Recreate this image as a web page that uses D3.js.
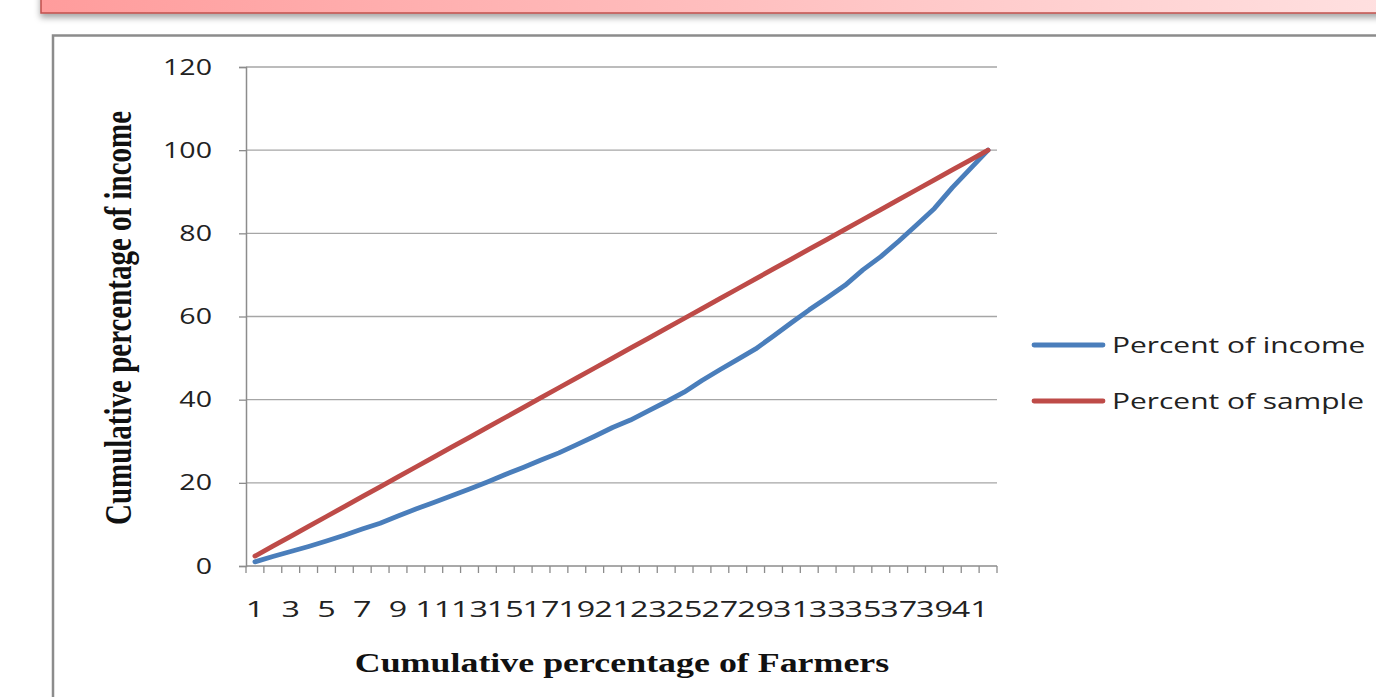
<!DOCTYPE html>
<html>
<head>
<meta charset="utf-8">
<script src="https://cdn.jsdelivr.net/npm/d3@7"></script>
<style>
  html, body { margin: 0; padding: 0; background: #ffffff; overflow: hidden; }
  svg { display: block; }
</style>
</head>
<body>
<svg id="chart" width="1376" height="697"></svg>
<script>
// Lorenz curve data: 42 farmer groups
const categories = [1,2,3,4,5,6,7,8,9,10,11,12,13,14,15,16,17,18,19,20,21,
                    22,23,24,25,26,27,28,29,30,31,32,33,34,35,36,37,38,39,40,41,42];
const percentOfIncome = [1.0, 2.3, 3.5, 4.7, 6.0, 7.4, 8.9, 10.3, 12.0, 13.7, 15.3,
                         16.9, 18.5, 20.2, 22.0, 23.7, 25.5, 27.2, 29.2, 31.2, 33.3,
                         35.1, 37.3, 39.5, 41.8, 44.6, 47.2, 49.7, 52.2, 55.3, 58.5,
                         61.6, 64.5, 67.5, 71.2, 74.4, 78.1, 82.0, 86.0, 91.0, 95.5, 100];
const percentOfSample = [2.38, 4.76, 7.14, 9.52, 11.90, 14.29, 16.67, 19.05, 21.43, 23.81,
                         26.19, 28.57, 30.95, 33.33, 35.71, 38.10, 40.48, 42.86, 45.24, 47.62,
                         50.00, 52.38, 54.76, 57.14, 59.52, 61.90, 64.29, 66.67, 69.05, 71.43,
                         73.81, 76.19, 78.57, 80.95, 83.33, 85.71, 88.10, 90.48, 92.86, 95.24,
                         97.62, 100];
const yTicks = [0, 20, 40, 60, 80, 100, 120];
const xTickLabels = categories.filter(c => c % 2 === 1);

const seriesList = [
  { name: "Percent of income", values: percentOfIncome, color: "#4a7ebb" },
  { name: "Percent of sample", values: percentOfSample, color: "#be4b48" }
];

const svg = d3.select("#chart");
const SX = 1.33; // horizontal stretch applied to text

// Banner across the top
const defs = svg.append("defs");
const grad = defs.append("linearGradient").attr("id", "bannerGrad")
  .attr("x1", "0%").attr("x2", "100%").attr("y1", "0%").attr("y2", "0%");
grad.append("stop").attr("offset", "0%").attr("stop-color", "#ff9c9c");
grad.append("stop").attr("offset", "100%").attr("stop-color", "#ffe3e3");
const shadow = defs.append("filter").attr("id", "bannerShadow")
  .attr("x", "-5%").attr("y", "-50%").attr("width", "110%").attr("height", "300%");
shadow.append("feDropShadow").attr("dx", 0).attr("dy", 4).attr("stdDeviation", 3)
  .attr("flood-color", "#000").attr("flood-opacity", 0.35);

svg.append("rect")
  .attr("x", 41).attr("y", -10).attr("width", 1400).attr("height", 23)
  .attr("fill", "url(#bannerGrad)")
  .attr("stroke", "#c0504d").attr("stroke-width", 1.5)
  .attr("filter", "url(#bannerShadow)");

// Chart frame
svg.append("path")
  .attr("d", "M53,700 L53,35.5 L1380,35.5")
  .attr("fill", "none").attr("stroke", "#8c8c8c").attr("stroke-width", 2.5);

// Plot geometry
const plot = { left: 246, right: 997, top: 67, bottom: 566 };

const x = d3.scaleBand().domain(categories).range([plot.left, plot.right]).paddingInner(0).paddingOuter(0);
const y = d3.scaleLinear().domain([0, 120]).range([plot.bottom, plot.top]);
const cx = c => x(c) + x.bandwidth() / 2;

// Horizontal gridlines
svg.append("g").selectAll("line").data(yTicks.filter(t => t > 0)).join("line")
  .attr("x1", plot.left).attr("x2", plot.right)
  .attr("y1", d => y(d)).attr("y2", d => y(d))
  .attr("stroke", "#a6a6a6").attr("stroke-width", 1.3);

// Y axis
const yAxis = svg.append("g").attr("transform", `translate(${plot.left},0)`)
  .call(d3.axisLeft(y).tickValues(yTicks).tickSize(7).tickFormat(""));
yAxis.select(".domain").attr("stroke", "#8c8c8c").attr("stroke-width", 1.5);
yAxis.selectAll(".tick line").attr("stroke", "#8c8c8c").attr("stroke-width", 1.3);

svg.append("g").selectAll("text").data(yTicks).join("text")
  .attr("transform", d => `translate(212,${y(d)}) scale(1.36,1)`)
  .attr("dy", "0.36em")
  .attr("text-anchor", "end")
  .attr("font-family", "'Open Sans', sans-serif")
  .attr("font-size", 21)
  .attr("fill", "#222")
  .text(d => d);

// X axis: ticks on band boundaries
const boundaries = categories.map(c => x(c)).concat([plot.right]);
svg.append("line")
  .attr("x1", plot.left).attr("x2", plot.right)
  .attr("y1", plot.bottom).attr("y2", plot.bottom)
  .attr("stroke", "#8c8c8c").attr("stroke-width", 1.5);
svg.append("g").selectAll("line").data(boundaries).join("line")
  .attr("x1", d => d).attr("x2", d => d)
  .attr("y1", plot.bottom).attr("y2", plot.bottom + 7)
  .attr("stroke", "#8c8c8c").attr("stroke-width", 1.3);

svg.append("g").selectAll("text").data(xTickLabels).join("text")
  .attr("transform", d => `translate(${cx(d)},617) scale(1.5,1)`)
  .attr("text-anchor", "middle")
  .attr("font-family", "'Open Sans', sans-serif")
  .attr("font-size", 21.5)
  .attr("fill", "#222")
  .text(d => d);

// Series lines
const line = d3.line().x((d, i) => cx(categories[i])).y(d => y(d));
svg.append("g").selectAll("path").data(seriesList).join("path")
  .attr("d", s => line(s.values))
  .attr("fill", "none")
  .attr("stroke", s => s.color)
  .attr("stroke-width", 4.8)
  .attr("stroke-linejoin", "round")
  .attr("stroke-linecap", "round");

// Legend
const legend = svg.append("g").selectAll("g").data(seriesList).join("g")
  .attr("transform", (d, i) => `translate(1034,${345 + i * 56})`);
legend.append("line")
  .attr("x1", 0).attr("x2", 69).attr("y1", 0).attr("y2", 0)
  .attr("stroke", d => d.color).attr("stroke-width", 4.8).attr("stroke-linecap", "round");
legend.append("text")
  .attr("transform", `translate(78,0) scale(1.36,1)`)
  .attr("dy", "0.36em")
  .attr("font-family", "'Open Sans', sans-serif")
  .attr("font-size", 22)
  .attr("fill", "#222")
  .text(d => d.name);

// Axis titles
svg.append("text")
  .attr("transform", `translate(622,672) scale(${SX},1)`)
  .attr("text-anchor", "middle")
  .attr("font-family", "'Liberation Serif', 'Times New Roman', serif")
  .attr("font-weight", "bold")
  .attr("font-size", 27)
  .attr("fill", "#111")
  .text("Cumulative percentage of Farmers");

svg.append("text")
  .attr("transform", `translate(131,318) scale(${SX},1) rotate(-90)`)
  .attr("text-anchor", "middle")
  .attr("font-family", "'Liberation Serif', 'Times New Roman', serif")
  .attr("font-weight", "bold")
  .attr("font-size", 29)
  .attr("fill", "#111")
  .text("Cumulative percentage of income");
</script>
</body>
</html>
